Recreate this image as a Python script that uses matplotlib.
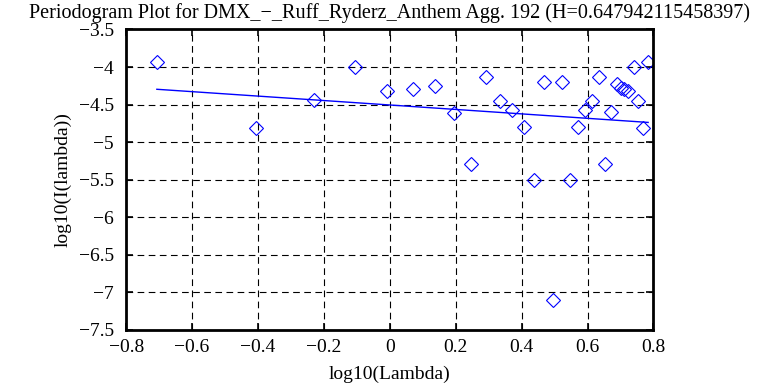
import matplotlib
matplotlib.use("Agg")
import matplotlib.pyplot as plt
import numpy as np

plt.rcParams['font.family'] = ['Liberation Serif', 'DejaVu Serif']
plt.rcParams['axes.unicode_minus'] = True

title = "Periodogram Plot for DMX_\u2212_Ruff_Ryderz_Anthem Agg. 192 (H=0.647942115458397)"
xlabel = "log10(Lambda)"
ylabel = "log10(I(lambda))"

log_lambda = [-0.707, -0.407, -0.230, -0.105, -0.009, 0.070, 0.137, 0.196,
              0.245, 0.293, 0.334, 0.371, 0.406, 0.438, 0.467, 0.496,
              0.523, 0.547, 0.570, 0.592, 0.614, 0.634, 0.653, 0.672,
              0.689, 0.702, 0.711, 0.722, 0.740, 0.754, 0.768, 0.784]
log_I = [-3.929, -4.808, -4.443, -3.995, -4.319, -4.288, -4.248, -4.608,
         -5.291, -4.137, -4.448, -4.572, -4.794, -5.504, -4.195, -7.106,
         -4.195, -5.504, -4.794, -4.572, -4.448, -4.132, -5.291, -4.599,
         -4.230, -4.275, -4.292, -4.319, -3.995, -4.452, -4.808, -3.929]

fit_slope = -0.295884
fit_intercept = -4.505

xticks = [-0.8, -0.6, -0.4, -0.2, 0, 0.2, 0.4, 0.6, 0.8]
yticks = [-7.5, -7, -6.5, -6, -5.5, -5, -4.5, -4, -3.5]

fig = plt.figure(figsize=(7.8, 3.85), dpi=100)
ax = fig.add_axes([0.1618, 0.1429, 0.6759, 0.7805])

ax.plot(log_lambda, log_I, linestyle='none', marker='D', markersize=7,
        markerfacecolor='none', markeredgecolor='blue', markeredgewidth=0.8)
xs = np.array([min(log_lambda), max(log_lambda)])
ax.plot(xs, fit_slope * xs + fit_intercept, color='blue', linewidth=1.0)

ax.set_xlim(-0.8, 0.8)
ax.set_ylim(-7.5, -3.5)
ax.set_xticks(xticks)
ax.set_yticks(yticks)
ax.set_xticklabels(["\u22120.8", "\u22120.6", "\u22120.4", "\u22120.2", "0", "0.2", "0.4", "0.6", "0.8"])
ax.set_yticklabels(["\u22127.5", "\u22127", "\u22126.5", "\u22126", "\u22125.5", "\u22125", "\u22124.5", "\u22124", "\u22123.5"])
ax.grid(True, color='black', linestyle=(0, (6, 4)), linewidth=0.8)
ax.tick_params(direction='in', top=True, right=True, length=5, width=1.2,
               labelsize=14)
ax.tick_params(axis='x', pad=6.5)
ax.tick_params(axis='y', pad=9)
for s in ax.spines.values():
    s.set_linewidth(2)

ax.set_title(title, fontsize=14.5, pad=8)
ax.set_xlabel(xlabel, fontsize=14, labelpad=7)
ax.set_ylabel(ylabel, fontsize=14, labelpad=5)

fig.savefig("out.png", dpi=100)
